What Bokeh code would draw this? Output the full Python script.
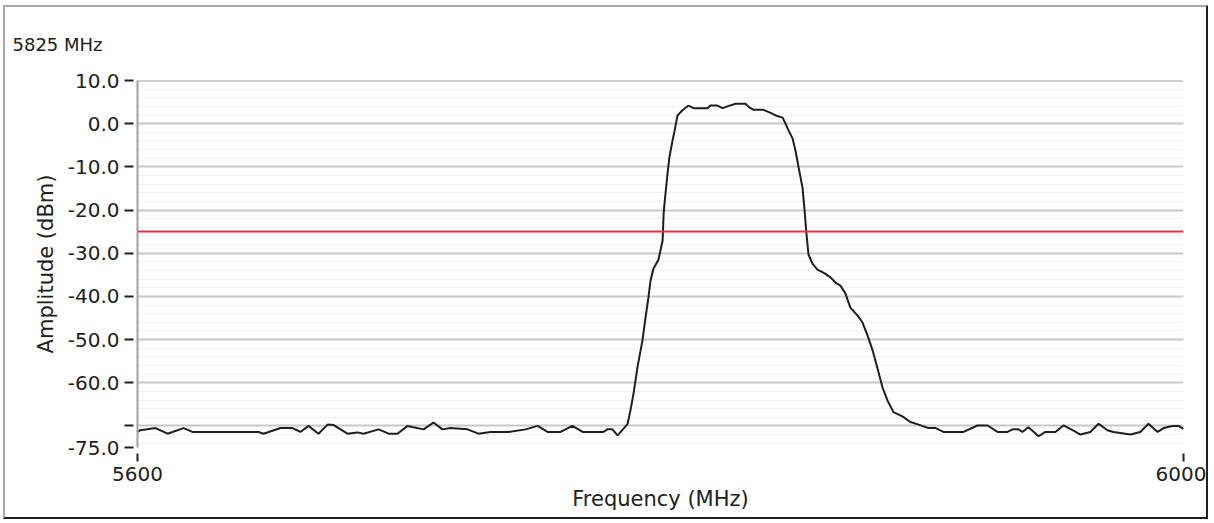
from bokeh.plotting import figure
from bokeh.models import Range1d, FixedTicker, Span, Title
from bokeh.embed import file_html
from bokeh.resources import INLINE

# ---- data ----
freq_mhz = [5600, 5601.1, 5606.9, 5611.5, 5617.6, 5621.0, 5646.3, 5648.2, 5654.7, 5659.3,
            5662.3, 5665.4, 5669.2, 5672.7, 5675.0, 5680.3, 5684.1, 5686.4, 5692.2, 5696.0,
            5699.4, 5703.3, 5705.5, 5709.4, 5713.2, 5716.6, 5719.7, 5726.2, 5730.4, 5735.0,
            5741.9, 5748.4, 5753.0, 5756.8, 5761.8, 5766.3, 5770.2, 5778.2, 5779.7, 5781.6,
            5783.6, 5787.4, 5788.5, 5789.7, 5791.2, 5793.1, 5794.3, 5795.4, 5796.2, 5797.3,
            5799.2, 5800.8, 5801.2, 5801.9, 5802.7, 5803.4, 5804.6, 5805.4, 5806.5, 5808.4,
            5810.7, 5812.6, 5818.0, 5819.1, 5821.8, 5823.7, 5825.6, 5828.7, 5832.5, 5833.7,
            5835.6, 5839.4, 5842.1, 5844.0, 5846.7, 5847.8, 5849.0, 5850.5, 5851.6, 5852.8,
            5854.3, 5855.1, 5855.8, 5856.6, 5858.1, 5860.0, 5862.3, 5865.0, 5866.9, 5868.8,
            5870.7, 5872.6, 5875.3, 5877.2, 5879.2, 5881.1, 5883.0, 5884.9, 5886.8, 5889.1,
            5892.5, 5895.6, 5898.7, 5902.5, 5905.2, 5908.2, 5915.9, 5921.2, 5925.1, 5928.9,
            5932.7, 5934.6, 5936.9, 5938.4, 5940.7, 5944.6, 5947.2, 5951.0, 5954.1, 5957.6,
            5960.6, 5964.4, 5967.5, 5970.9, 5973.2, 5979.7, 5983.5, 5986.6, 5990.1, 5992.4,
            5995.8, 5998.1, 6000]
amplitude_dbm = [-71.4, -71.0, -70.5, -71.8, -70.5, -71.4, -71.4, -71.8, -70.5, -70.5,
                 -71.4, -70.0, -71.8, -69.7, -69.8, -71.8, -71.5, -71.8, -70.8, -71.8,
                 -71.8, -70.0, -70.3, -70.8, -69.2, -70.8, -70.5, -70.8, -71.8, -71.4,
                 -71.4, -70.8, -70.0, -71.4, -71.4, -70.0, -71.4, -71.4, -70.8, -70.8,
                 -72.2, -69.6, -66.4, -62.5, -56.4, -50.2, -44.8, -40.2, -36.3, -33.6,
                 -31.5, -27.1, -20.8, -16.2, -11.5, -7.8, -3.9, -1.6, 1.9, 3.1,
                 4.2, 3.6, 3.6, 4.2, 4.2, 3.6, 4.0, 4.6, 4.6, 3.9,
                 3.2, 3.2, 2.5, 1.9, 1.4, 0.0, -1.6, -3.4, -6.2, -10.1,
                 -14.8, -20.1, -25.4, -30.3, -32.4, -33.8, -34.5, -35.6, -36.8, -37.5,
                 -39.3, -42.6, -44.4, -46.0, -49.1, -52.5, -56.7, -61.1, -64.1, -66.8,
                 -67.8, -69.1, -69.7, -70.5, -70.5, -71.4, -71.4, -69.9, -69.9, -71.4,
                 -71.4, -70.8, -70.8, -71.4, -70.3, -72.4, -71.4, -71.4, -69.9, -71.0,
                 -72.0, -71.4, -69.5, -71.0, -71.4, -72.0, -71.4, -69.5, -71.4, -70.5,
                 -70.0, -70.0, -70.7]
limit_dbm = -25
y_ticks = [10, 0, -10, -20, -30, -40, -50, -60, -70, -75]
y_tick_labels = ["10.0", "0.0", "-10.0", "-20.0", "-30.0", "-40.0", "-50.0", "-60.0", "", "-75.0"]
y_minor = [8, 6, 4, 2, -2, -4, -6, -8, -12, -14, -16, -18, -22, -24, -26, -28,
           -32, -34, -36, -38, -42, -44, -46, -48, -52, -54, -56, -58,
           -62, -64, -66, -68, -72, -74]
x_ticks = [5600, 6000]
x_tick_labels = ["5600", "6000"]
title_text = "5825 MHz"

FONT = "DejaVu Sans"

p = figure(width=1205, height=514, output_backend="svg", toolbar_location=None,
           x_range=Range1d(5600, 6000), y_range=Range1d(-75, 10),
           min_border_left=132, min_border_right=27, min_border_top=73, min_border_bottom=74,
           background_fill_color="white", border_fill_color="white",
           x_axis_label="Frequency (MHz)", y_axis_label="Amplitude (dBm)")
p.styles = {"margin-left": "3px", "margin-top": "5px",
            "border-top": "2px solid #a8a8a8", "border-left": "2px solid #a8a8a8",
            "border-right": "2px solid #202020", "border-bottom": "2px solid #202020"}
p.outline_line_color = None

# grids
p.xgrid.grid_line_color = None
p.ygrid.ticker = FixedTicker(ticks=y_ticks, minor_ticks=y_minor)
p.ygrid.grid_line_color = "#c8c8c8"
p.ygrid.grid_line_width = 2
p.ygrid.minor_grid_line_color = "#f1f1f1"
p.ygrid.minor_grid_line_width = 1

# y axis
ya = p.yaxis[0]
ya.ticker = FixedTicker(ticks=y_ticks, minor_ticks=[])
ya.major_label_overrides = {t: l for t, l in zip(y_ticks, y_tick_labels)}
ya.axis_line_color = "#a0a0a0"
ya.axis_line_width = 2
ya.major_tick_line_color = "#202020"
ya.major_tick_line_width = 2
ya.major_tick_out = 13
ya.major_tick_in = -4
ya.minor_tick_line_color = None
ya.major_label_standoff = 5
ya.major_label_text_font = FONT
ya.major_label_text_font_size = "20px"
ya.major_label_text_color = "#202020"
ya.axis_label_text_font = FONT
ya.axis_label_text_font_size = "21px"
ya.axis_label_text_font_style = "normal"
ya.axis_label_text_color = "#202020"
ya.axis_label_standoff = 7

# x axis
xa = p.xaxis[0]
xa.ticker = FixedTicker(ticks=x_ticks, minor_ticks=[])
xa.major_label_overrides = {t: l for t, l in zip(x_ticks, x_tick_labels)}
xa.axis_line_color = None
xa.major_tick_line_color = "#202020"
xa.major_tick_line_width = 2
xa.major_tick_out = 14
xa.major_tick_in = -6
xa.minor_tick_line_color = None
xa.major_label_standoff = 5
xa.major_label_text_font = FONT
xa.major_label_text_font_size = "20px"
xa.major_label_text_color = "#202020"
xa.axis_label_text_font = FONT
xa.axis_label_text_font_size = "21px"
xa.axis_label_text_font_style = "normal"
xa.axis_label_text_color = "#202020"
xa.axis_label_standoff = 3

# top edge of the plot area
p.add_layout(Span(location=10, dimension="width", line_color="#a0a0a0", line_width=2))
# limit line
p.add_layout(Span(location=limit_dbm, dimension="width", line_color="#ff2a3a", line_width=2))

p.line(freq_mhz, amplitude_dbm, line_color="#1e1e1e", line_width=2)

p.add_layout(Title(text=title_text, align="left", vertical_align="top", offset=-125, standoff=48,
                   text_font=FONT, text_font_size="18px", text_font_style="normal",
                   text_color="#202020"), "above")

open("out.html", "w").write(file_html(p, INLINE))
